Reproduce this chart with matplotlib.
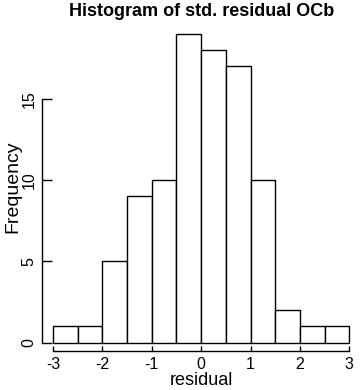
import numpy as np
import matplotlib
matplotlib.use("Agg")
import matplotlib.pyplot as plt

# histogram of standardised residuals, bins of 0.5
bin_edges = [-3.0, -2.5, -2.0, -1.5, -1.0, -0.5, 0.0, 0.5, 1.0, 1.5, 2.0, 2.5, 3.0]
counts = [1, 1, 5, 9, 10, 19, 18, 17, 10, 2, 1, 1]
x_ticks = [-3, -2, -1, 0, 1, 2, 3]
y_ticks = [0, 5, 10, 15]

plt.rcParams["font.family"] = ["Liberation Sans", "DejaVu Sans"]

fig = plt.figure(figsize=(3.6, 3.9), dpi=100)
ax = fig.add_axes([0.1158, 0.1, 0.886, 0.8446])

edges = np.array(bin_edges)
ax.bar(edges[:-1], counts, width=np.diff(edges), align="edge",
       color="white", edgecolor="black", linewidth=1.0)

# R-style axes: padding around data, axis lines limited to tick range
ax.set_xlim(-3.23, 3.23)
ax.set_ylim(-0.51, 19.76)
for s in ("top", "right"):
    ax.spines[s].set_visible(False)
ax.spines["left"].set_bounds(0, 15)
ax.spines["bottom"].set_bounds(-3, 3)
ax.spines["left"].set_linewidth(1.0)
ax.spines["bottom"].set_linewidth(1.0)

ax.set_xticks(x_ticks)
ax.set_xticklabels([str(v) for v in x_ticks])
ax.set_yticks(y_ticks)
ax.set_yticklabels([str(v) for v in y_ticks], rotation=90, va="center")
ax.tick_params(axis="x", direction="in", length=3.6, width=1.0, labelsize=11.5, pad=4)
ax.tick_params(axis="y", direction="in", length=7, width=1.0, labelsize=11.5, pad=3.6)

ax.set_xlabel("residual", fontsize=13, labelpad=0)
ax.set_ylabel("Frequency", fontsize=14, labelpad=0)
ax.set_title("Histogram of std. residual OCb", fontsize=13, fontweight="bold", pad=4)

fig.savefig("out.png", dpi=100)
